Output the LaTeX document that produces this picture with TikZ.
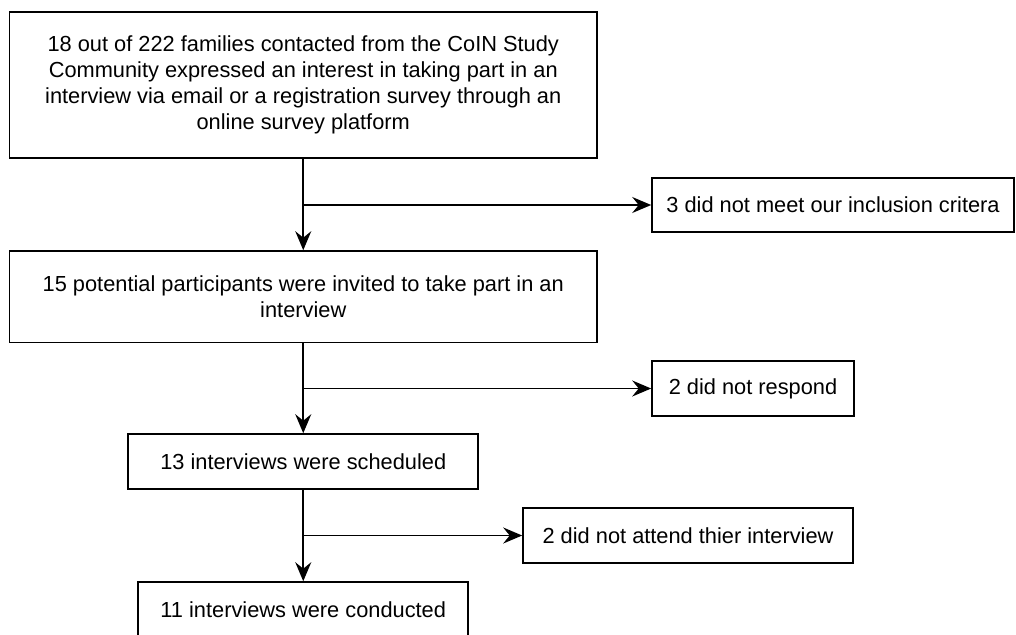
\documentclass[tikz,border=0pt]{standalone}
\usepackage{fontspec}
\setmainfont{Liberation Sans}
\usetikzlibrary{arrows.meta}
\begin{document}
\begin{tikzpicture}[x=1pt,y=-1pt,
  box/.style={draw, line width=1.6pt, inner sep=0pt, align=center,
    font=\fontsize{21.8}{26.2}\selectfont},
  arr/.style={line width=1.6pt, -{Stealth[length=19pt,width=16pt,inset=6.5pt]}}]
\useasboundingbox (0,0) rectangle (1016,634);
\clip (0,0) rectangle (1016,634);
\node[box, minimum width=587.5pt, minimum height=146pt] (b1) at (303.25,85)
  {18 out of 222 families contacted from the CoIN Study\\Community expressed an interest in taking part in an\\interview via email or a registration survey through an\\online survey platform};
\node[box, minimum width=362pt, minimum height=54pt] (r1) at (833,205)
  {3 did not meet our inclusion critera};
\node[box, minimum width=587.5pt, minimum height=91.5pt] (b2) at (303.25,296.75)
  {15 potential participants were invited to take part in an\\interview};
\node[box, minimum width=202pt, minimum height=55pt] (r2) at (753,388.5)
  {2 did not respond};
\node[box, minimum width=350pt, minimum height=55pt] (b3) at (303.25,461.5)
  {13 interviews were scheduled};
\node[box, minimum width=330pt, minimum height=55pt] (r3) at (688,535.5)
  {2 did not attend thier interview};
\node[box, minimum width=330pt, minimum height=55pt] (b4) at (303.25,609.5)
  {11 interviews were conducted};
\draw[arr] (b1.south) -- (b2.north);
\draw[arr] (b1.south |- r1.west) -- (r1.west);
\draw[arr] (b2.south) -- (b3.north);
\draw[arr] (b2.south |- r2.west) -- (r2.west);
\draw[arr] (b3.south) -- (b4.north);
\draw[arr] (b3.south |- r3.west) -- (r3.west);
\end{tikzpicture}
\end{document}
